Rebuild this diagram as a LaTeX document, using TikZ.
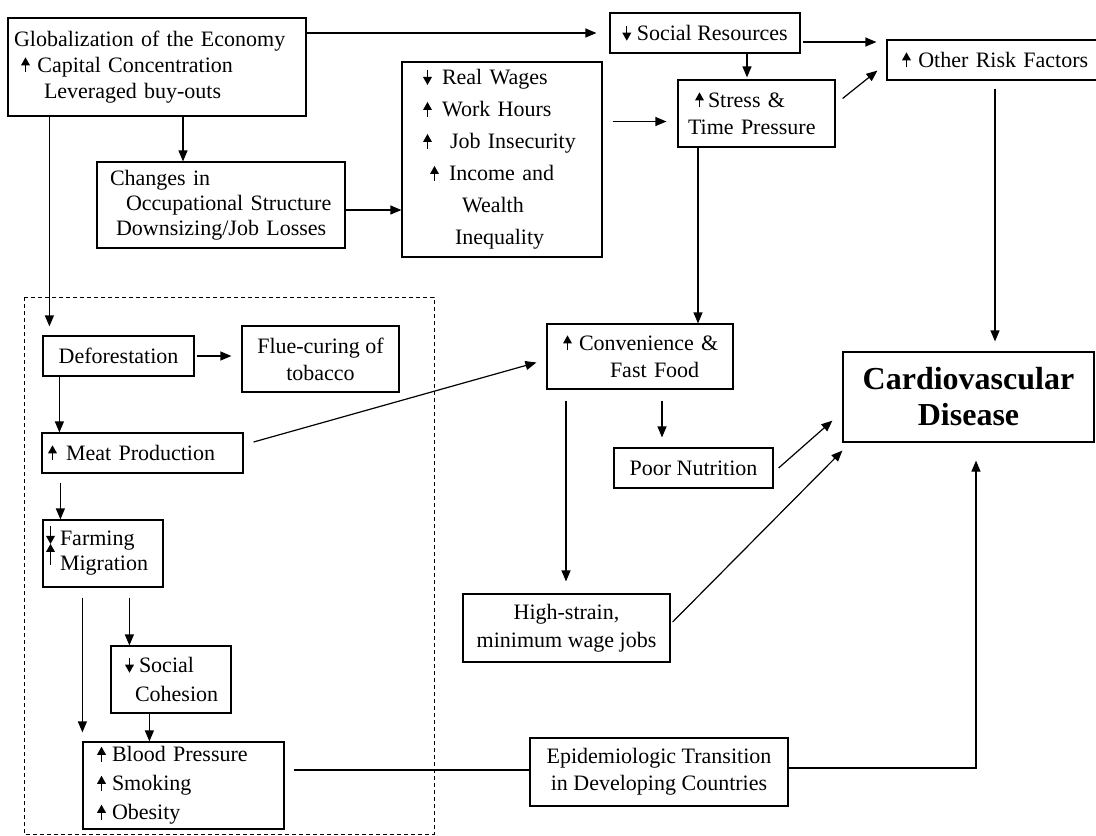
\documentclass[tikz,border=0pt]{standalone}
\usepackage{fontspec}
\setmainfont{Liberation Serif}
\usetikzlibrary{arrows.meta}
\newcommand{\uarr}{\tikz[baseline=0pt]{\fill[black] (-4.5pt,7pt) -- (4.5pt,7pt) -- (0pt,15pt) -- cycle; \draw[line width=1.3pt] (0pt,0pt) -- (0pt,8pt);}}
\newcommand{\darr}{\tikz[baseline=0pt]{\fill[black] (-4.5pt,8pt) -- (4.5pt,8pt) -- (0pt,0pt) -- cycle; \draw[line width=1.3pt] (0pt,7pt) -- (0pt,15pt);}}
\newcommand{\farmdown}{\smash{\tikz[baseline=0pt]{\draw[line width=1.3pt] (0pt,20pt) -- (0pt,8pt); \fill[black] (-4.5pt,10pt) -- (4.5pt,10pt) -- (0pt,2pt) -- cycle;}}}
\newcommand{\farmup}{\smash{\tikz[baseline=0pt]{\draw[line width=1.3pt] (0pt,6pt) -- (0pt,20pt); \fill[black] (-4.5pt,19pt) -- (4.5pt,19pt) -- (0pt,27pt) -- cycle;}}}
\begin{document}
\begin{tikzpicture}[x=1pt,y=-1pt,
  box/.style={draw, line width=1.2pt, inner xsep=6pt, inner ysep=0pt, font=\fontsize{22}{26}\selectfont},
  arr/.style={-{Triangle[length=11pt,width=9pt]}, line width=1.2pt},
  ln/.style={line width=1.2pt},
  frame/.style={line width=1pt, dash pattern=on 4pt off 3pt}]
\useasboundingbox (0,0) rectangle (1096,836);

% dashed grouping frame
\draw[frame] (24,297) rectangle (434,834);

% nodes
\node[box, minimum width=298pt, minimum height=98pt, text width=286pt, align=left] (glob) at (157,67)
  {\mbox{Globalization of the Economy}\\ \mbox{\hspace*{7pt}\uarr\ Capital Concentration}\\ \mbox{\hspace*{30pt}Leveraged buy-outs}};
\node[box, minimum width=190pt, minimum height=40pt] (socres) at (705,33) {\darr\ Social Resources};
\node[box, minimum width=213pt, minimum height=40pt, text width=201pt, align=left] (other) at (993.5,60)
  {\mbox{\hspace*{9pt}\uarr\ Other Risk Factors}};
\node[box, minimum width=200pt, minimum height=195pt, text width=188pt, align=left, font=\fontsize{22}{32}\selectfont] (rw) at (502,159.5)
  {\mbox{\hspace*{15pt}\darr\hspace{10pt}Real Wages}\\ \mbox{\hspace*{15pt}\uarr\hspace{10pt}Work Hours}\\ \mbox{\hspace*{15pt}\uarr\hspace{18pt}Job Insecurity}\\ \mbox{\hspace*{22pt}\uarr\hspace{10pt}Income and}\\ \mbox{\hspace*{54pt}Wealth}\\ \mbox{\hspace*{47pt}Inequality}};
\node[box, minimum width=157pt, minimum height=67pt, text width=145pt, align=left, font=\fontsize{22}{27}\selectfont] (stress) at (756.5,113.5)
  {\mbox{\hspace*{11pt}\uarr\hspace{4pt}Stress \&}\\ \mbox{\hspace*{4pt}Time Pressure}};
\node[box, minimum width=248pt, minimum height=86pt, text width=236pt, align=left, font=\fontsize{22}{25}\selectfont] (chg) at (221,205)
  {\mbox{\hspace*{7pt}Changes in}\\ \mbox{\hspace*{23pt}Occupational Structure}\\ \mbox{\hspace*{13pt}Downsizing/Job Losses}};
\node[box, minimum width=151pt, minimum height=40pt] (defor) at (118.5,356) {Deforestation};
\node[box, minimum width=157pt, minimum height=66pt, align=center, font=\fontsize{22}{27}\selectfont] (flue) at (320.5,359) {Flue-curing of\\tobacco};
\node[box, minimum width=201pt, minimum height=40pt, text width=189pt, align=left] (meat) at (142.5,453)
  {\mbox{\uarr\hspace{9pt}Meat Production}};
\node[box, minimum width=120pt, minimum height=67pt, inner xsep=3pt, text width=114pt, align=left, font=\fontsize{22}{25}\selectfont] (farm) at (103,553.5)
  {\mbox{\farmdown\hspace{5pt}Farming}\\ \mbox{\farmup\hspace{5pt}Migration}};
\node[box, minimum width=120pt, minimum height=67pt, text width=108pt, align=left, font=\fontsize{22}{29}\selectfont] (soc) at (171,679.5)
  {\mbox{\hspace*{8pt}\darr\hspace{5pt}Social}\\ \mbox{\hspace*{18pt}Cohesion}};
\node[box, minimum width=201pt, minimum height=87pt, text width=189pt, align=left, font=\fontsize{22}{29}\selectfont] (blood) at (183.5,785.5)
  {\mbox{\hspace*{8pt}\uarr\hspace{6pt}Blood Pressure}\\ \mbox{\hspace*{8pt}\uarr\hspace{6pt}Smoking}\\ \mbox{\hspace*{8pt}\uarr\hspace{6pt}Obesity}};
\node[box, minimum width=186pt, minimum height=65pt, text width=174pt, align=left, font=\fontsize{22}{27}\selectfont] (conv) at (640,356.5)
  {\mbox{\hspace*{10pt}\uarr\hspace{7pt}Convenience \&}\\ \mbox{\hspace*{57pt}Fast Food}};
\node[box, minimum width=159pt, minimum height=40pt] (poor) at (693.5,468) {Poor Nutrition};
\node[box, minimum width=207pt, minimum height=68pt, align=center, font=\fontsize{22}{28}\selectfont] (strain) at (566.5,628) {High-strain,\\minimum wage jobs};
\node[box, minimum width=258pt, minimum height=68pt, align=center, font=\fontsize{22}{27}\selectfont] (epid) at (659,772) {Epidemiologic Transition\\in Developing Countries};
\node[box, minimum width=251pt, minimum height=90pt, align=center, font=\fontsize{32}{36}\selectfont\bfseries] (cvd) at (968.5,397) {Cardiovascular\\Disease};

% connectors
\draw[arr, shorten >=13pt] (glob.east |- socres.west) -- (socres.west);
\draw[arr] ([xshift=26pt]glob.south) -- ([xshift=26pt]glob.south |- chg.north);
\draw[arr, shorten >=9pt] ([xshift=42pt]glob.south west) -- ([xshift=42pt]glob.south west |- defor.north);
\draw[arr] ([yshift=-5pt]chg.east) -- ([yshift=-5pt]chg.east -| rw.west);
\draw[arr, shorten <=10pt, shorten >=11pt] ([yshift=-8pt]stress.west -| rw.east) -- ([yshift=-8pt]stress.west);
\draw[arr, shorten >=2pt] ([xshift=42pt]socres.south) -- ([xshift=42pt]socres.south |- stress.north);
\draw[arr, shorten <=2pt, shorten >=10pt] ([yshift=-9pt]socres.east) -- ([yshift=-9pt]socres.east -| other.west);
\draw[arr] ([xshift=7pt,yshift=15pt]stress.east) -- ([xshift=-9pt,yshift=10pt]other.south west);
\draw[arr, shorten <=8pt, shorten >=10pt] ([xshift=1.5pt]other.south) -- ([xshift=1.5pt]other.south |- cvd.north);
\draw[arr] ([xshift=-58.5pt]stress.south) -- ([xshift=-58.5pt]stress.south |- conv.north);
\draw[arr] ([xshift=10pt,yshift=11pt]meat.east) -- ([xshift=-10pt,yshift=-6pt]conv.west);
\draw[arr, shorten <=2pt, shorten >=10pt] (defor.east) -- (defor.east -| flue.west);
\draw[arr] ([xshift=17pt]defor.south west) -- ([xshift=17pt]defor.south west |- meat.north);
\draw[arr, shorten <=9pt] ([xshift=19pt]meat.south west) -- ([xshift=19pt]meat.south west |- farm.north);
\draw[arr, shorten <=10pt] ([xshift=87pt]farm.south west) -- ([xshift=87pt]farm.south west |- soc.north);
\draw[arr, shorten <=10pt, shorten >=9pt] ([xshift=40pt]farm.south west) -- ([xshift=40pt]farm.south west |- blood.north);
\draw[arr] ([xshift=39pt]soc.south west) -- ([xshift=39pt]soc.south west |- blood.north);
\draw[ln, shorten <=9pt] ([yshift=15.5pt]blood.east) -- ([yshift=15.5pt]blood.east -| epid.west);
\draw[arr, shorten >=18pt] ([yshift=4pt]epid.east) -| ([xshift=7.5pt]cvd.south);
\draw[arr, shorten <=11pt, shorten >=10pt] ([xshift=22pt]conv.south) -- ([xshift=22pt]conv.south |- poor.north);
\draw[arr, shorten <=11pt, shorten >=12pt] ([xshift=-74pt]conv.south) -- ([xshift=-74pt]conv.south |- strain.north);
\draw[arr] ([xshift=5pt]poor.east) -- ([xshift=-10pt,yshift=22pt]cvd.south west);
\draw[arr] ([xshift=2pt,yshift=6pt]strain.east) -- ([yshift=-8pt]cvd.south west);
\end{tikzpicture}
\end{document}
